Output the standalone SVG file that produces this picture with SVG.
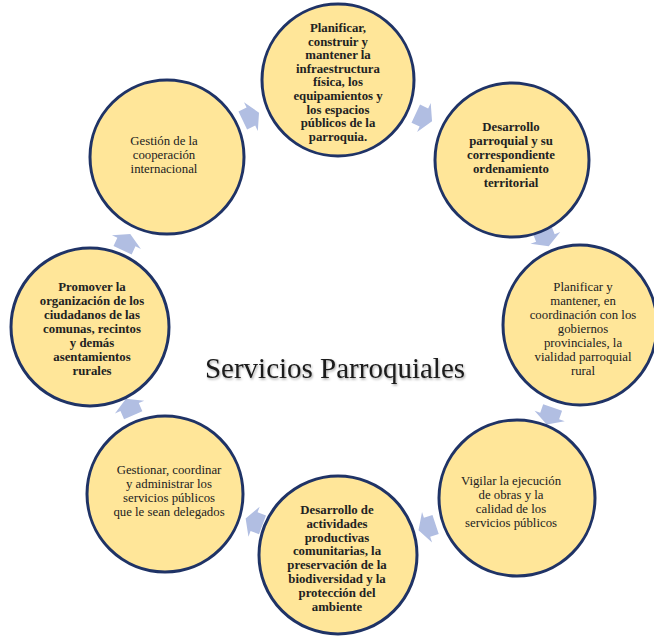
<svg xmlns="http://www.w3.org/2000/svg" width="654" height="636" viewBox="0 0 654 636">
<defs>
<style>
.node{fill:#ffe699;stroke:#1f3366;stroke-width:3}
.t{font-family:"Liberation Serif","Times New Roman",serif;font-size:12.8px;fill:#222;text-anchor:middle}
.b{font-weight:bold}
.arr{fill:#b1bee2}
.title{font-family:"Liberation Serif","Times New Roman",serif;font-size:29px;fill:#1a1a1a;text-anchor:middle}
</style>
<path id="ar" class="arr" d="M -8,-10 L 1,-10 L 1,-16 L 10,0 L 1,16 L 1,10 L -8,10 Z"/>
<filter id="sh" x="-5%" y="-20%" width="110%" height="140%">
<feDropShadow dx="1" dy="1.5" stdDeviation="1" flood-color="#000" flood-opacity="0.35"/>
</filter>
</defs>
<rect width="654" height="636" fill="#fff"/>
<g id="connectors">
<use href="#ar" transform="translate(250,117) rotate(-25.6)"/>
<use href="#ar" transform="translate(423,117) rotate(25.2)"/>
<use href="#ar" transform="translate(545,237) rotate(68.2)"/>
<use href="#ar" transform="translate(550,415) rotate(109.2)"/>
<use href="#ar" transform="translate(428,527) rotate(161.7)"/>
<use href="#ar" transform="translate(255,522) rotate(200.5)"/>
<use href="#ar" transform="translate(130,408) rotate(246.3)"/>
<use href="#ar" transform="translate(126,243) rotate(295.2)"/>
</g>
<g id="n1">
<circle class="node" cx="338" cy="80" r="76"/>
<text class="t b"><tspan x="338" y="32">Planificar,</tspan><tspan x="338" y="45.6">construir y</tspan><tspan x="338" y="59.2">mantener la</tspan><tspan x="338" y="72.8">infraestructura</tspan><tspan x="338" y="86.4">física, los</tspan><tspan x="338" y="100">equipamientos y</tspan><tspan x="338" y="113.6">los espacios</tspan><tspan x="338" y="127.2">públicos de la</tspan><tspan x="338" y="140.8">parroquia.</tspan></text>
</g>
<g id="n2">
<circle class="node" cx="512" cy="160" r="77"/>
<text class="t b"><tspan x="511" y="131">Desarrollo</tspan><tspan x="511" y="145">parroquial y su</tspan><tspan x="511" y="159">correspondiente</tspan><tspan x="511" y="173">ordenamiento</tspan><tspan x="511" y="187">territorial</tspan></text>
</g>
<g id="n3">
<ellipse class="node" cx="580" cy="325" rx="77" ry="80"/>
<text class="t"><tspan x="583" y="291">Planificar y</tspan><tspan x="583" y="305">mantener, en</tspan><tspan x="583" y="319">coordinación con los</tspan><tspan x="583" y="333">gobiernos</tspan><tspan x="583" y="347">provinciales, la</tspan><tspan x="583" y="361">vialidad parroquial</tspan><tspan x="583" y="375">rural</tspan></text>
</g>
<g id="n4">
<circle class="node" cx="517" cy="498" r="78"/>
<text class="t"><tspan x="511" y="485">Vigilar la ejecución</tspan><tspan x="511" y="499">de obras y la</tspan><tspan x="511" y="513">calidad de los</tspan><tspan x="511" y="527">servicios públicos</tspan></text>
</g>
<g id="n5">
<circle class="node" cx="338" cy="555" r="79"/>
<text class="t b"><tspan x="337" y="514">Desarrollo de</tspan><tspan x="337" y="527.8">actividades</tspan><tspan x="337" y="541.6">productivas</tspan><tspan x="337" y="555.4">comunitarias, la</tspan><tspan x="337" y="569.2">preservación de la</tspan><tspan x="337" y="583">biodiversidad y la</tspan><tspan x="337" y="596.8">protección del</tspan><tspan x="337" y="610.6">ambiente</tspan></text>
</g>
<g id="n6">
<circle class="node" cx="165" cy="494" r="78"/>
<text class="t"><tspan x="169" y="474">Gestionar, coordinar</tspan><tspan x="169" y="488">y administrar los</tspan><tspan x="169" y="502">servicios públicos</tspan><tspan x="169" y="516">que le sean delegados</tspan></text>
</g>
<g id="n7">
<circle class="node" cx="90" cy="327" r="79"/>
<text class="t b"><tspan x="92" y="291">Promover la</tspan><tspan x="92" y="305">organización de los</tspan><tspan x="92" y="319">ciudadanos de las</tspan><tspan x="92" y="333">comunas, recintos</tspan><tspan x="92" y="347">y demás</tspan><tspan x="92" y="361">asentamientos</tspan><tspan x="92" y="375">rurales</tspan></text>
</g>
<g id="n8">
<circle class="node" cx="167" cy="157" r="77"/>
<text class="t"><tspan x="164" y="145">Gestión de la</tspan><tspan x="164" y="159">cooperación</tspan><tspan x="164" y="173">internacional</tspan></text>
</g>
<text class="title" x="335" y="378" filter="url(#sh)">Servicios Parroquiales</text>
</svg>
